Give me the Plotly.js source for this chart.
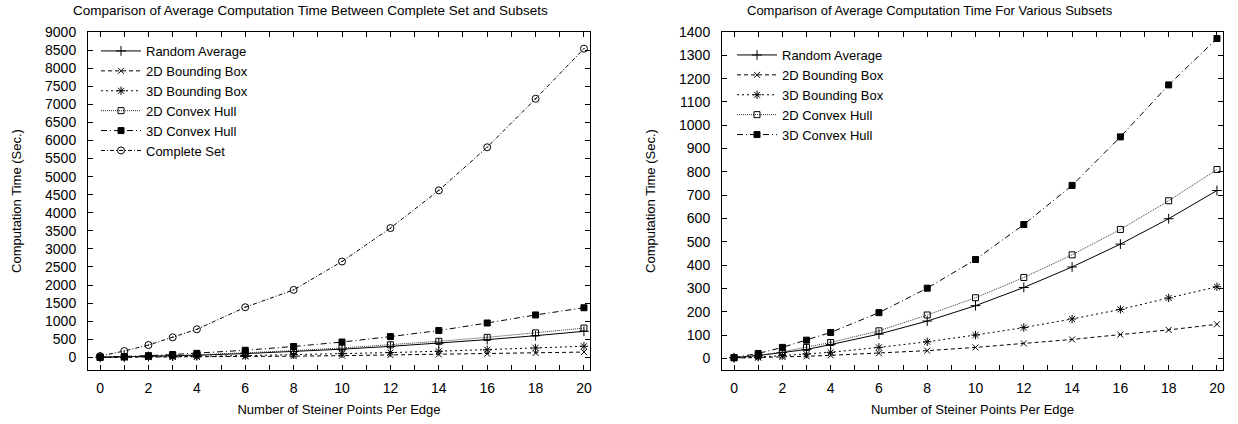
<!DOCTYPE html>
<html>
<head>
<meta charset="utf-8">
<script src="https://cdn.plot.ly/plotly-3.0.1.min.js"></script>
<style>html,body{margin:0;padding:0;background:#fff;}#chart{width:1238px;height:424px;}</style>
</head>
<body>
<div id="chart"></div>
<script>
// ---- data ----
const steinerPoints = [0, 1, 2, 3, 4, 6, 8, 10, 12, 14, 16, 18, 20];
const randomAverage = [3, 12, 25, 38, 59, 104, 160, 226, 304, 392, 490, 599, 720];
const boundingBox2D = [1, 3, 6, 9, 13, 22, 33, 47, 64, 81, 102, 122, 146];
const boundingBox3D = [2, 5, 12, 18, 26, 47, 71, 100, 132, 169, 210, 259, 307];
const convexHull2D = [3, 12, 28, 47, 68, 118, 186, 260, 347, 444, 553, 676, 810];
const convexHull3D = [3, 21, 47, 78, 111, 196, 301, 424, 574, 742, 950, 1173, 1372];
const completeSet = [36, 175, 341, 554, 776, 1386, 1866, 2651, 3576, 4619, 5811, 7153, 8539];

const xTickVals = [0,1,2,3,4,5,6,7,8,9,10,11,12,13,14,15,16,17,18,19,20];
const xTickText = ['0','','2','','4','','6','','8','','10','','12','','14','','16','','18','','20'];

const seriesNames = ['Random Average','2D Bounding Box','3D Bounding Box','2D Convex Hull','3D Convex Hull','Complete Set'];
const leftTitle = 'Comparison of Average Computation Time Between Complete Set and Subsets';
const rightTitle = 'Comparison of Average Computation Time For Various Subsets';
const xTitle = 'Number of Steiner Points Per Edge';
const yTitle = 'Computation Time (Sec.)';

// ---- styles ----
const FONT = 'Liberation Sans, Arial, sans-serif';
const styles = [
  {dash:'solid', symbol:'cross-thin-open', size:7, color:'#000'},
  {dash:'4px,3px', symbol:'x-thin-open', size:6, color:'#000'},
  {dash:'2px,3px', symbol:'asterisk-open', size:7, color:'#000'},
  {dash:'1px,1px', symbol:'square-open', size:6, color:'#333'},
  {dash:'6px,3px,1px,3px', symbol:'square', size:6, color:'#000'},
  {dash:'4px,2px,1px,2px', symbol:'circle-open-dot', size:7, color:'#000'}
];
const leftData = [randomAverage, boundingBox2D, boundingBox3D, convexHull2D, convexHull3D, completeSet];
const rightData = [randomAverage, boundingBox2D, boundingBox3D, convexHull2D, convexHull3D];

function mk(i, ys, xa, ya, leg) {
  const s = styles[i];
  return {
    type:'scatter', mode:'lines+markers', x: steinerPoints, y: ys,
    name: seriesNames[i], xaxis: xa, yaxis: ya, legend: leg,
    line:{color:s.color, width:1, dash:s.dash},
    marker:{symbol:s.symbol, size:s.size, color:'#000', line:{color:'#000', width:1}}
  };
}
const traces = [];
leftData.forEach((ys,i)=>traces.push(mk(i, ys, 'x', 'y', 'legend')));
rightData.forEach((ys,i)=>traces.push(mk(i, ys, 'x2', 'y2', 'legend2')));

const W = 1238, H = 424;
const axCommon = {
  showline:true, linecolor:'#000', linewidth:1, mirror:'allticks',
  ticks:'inside', ticklen:5, tickcolor:'#000', tickwidth:1,
  showgrid:false, zeroline:false, automargin:false,
  tickfont:{family:FONT, size:14, color:'#000'}
};
const xAx = (dom, anchor) => Object.assign({}, axCommon, {
  domain: dom, anchor: anchor, range:[-0.5, 20.25],
  tickmode:'array', tickvals:xTickVals, ticktext:xTickText,
  ticklabelstandoff: 5,
  title:{text:xTitle, font:{family:FONT, size:13, color:'#000'}, standoff:10}
});
const yAx = (dom, anchor, range, dtick) => Object.assign({}, axCommon, {
  domain: dom, anchor: anchor, range: range, dtick: dtick, tick0:0,
  ticklabelstandoff: 8,
  title:{text:yTitle, font:{family:FONT, size:13, color:'#000'}, standoff:20}
});
const yDom = [(H-370)/H, (H-32)/H];

const layout = {
  width:W, height:H, margin:{l:0,r:0,t:0,b:0},
  paper_bgcolor:'#fff', plot_bgcolor:'#fff',
  font:{family:FONT, color:'#000'},
  xaxis: xAx([88/W, 590/W], 'y'),
  yaxis: yAx(yDom, 'x', [-350, 9000], 500),
  xaxis2: xAx([722/W, 1223/W], 'y2'),
  yaxis2: yAx(yDom, 'x2', [-50, 1400], 100),
  legend:{x:96/W, y:(H-36)/H, xanchor:'left', yanchor:'top', bgcolor:'rgba(0,0,0,0)',
    font:{family:FONT, size:13, color:'#000'}, itemwidth:40, tracegroupgap:0},
  legend2:{x:732/W, y:(H-40)/H, xanchor:'left', yanchor:'top', bgcolor:'rgba(0,0,0,0)',
    font:{family:FONT, size:13, color:'#000'}, itemwidth:40, tracegroupgap:0},
  annotations:[
    {text:leftTitle, xref:'paper', yref:'paper', x:310/W, y:(H-10)/H, xanchor:'center', yanchor:'middle', showarrow:false, font:{family:FONT, size:13.5, color:'#000'}},
    {text:rightTitle, xref:'paper', yref:'paper', x:930/W, y:(H-10)/H, xanchor:'center', yanchor:'middle', showarrow:false, font:{family:FONT, size:13, color:'#000'}}
  ]
};
Plotly.newPlot('chart', traces, layout, {displayModeBar:false, staticPlot:true});
</script>
</body>
</html>
